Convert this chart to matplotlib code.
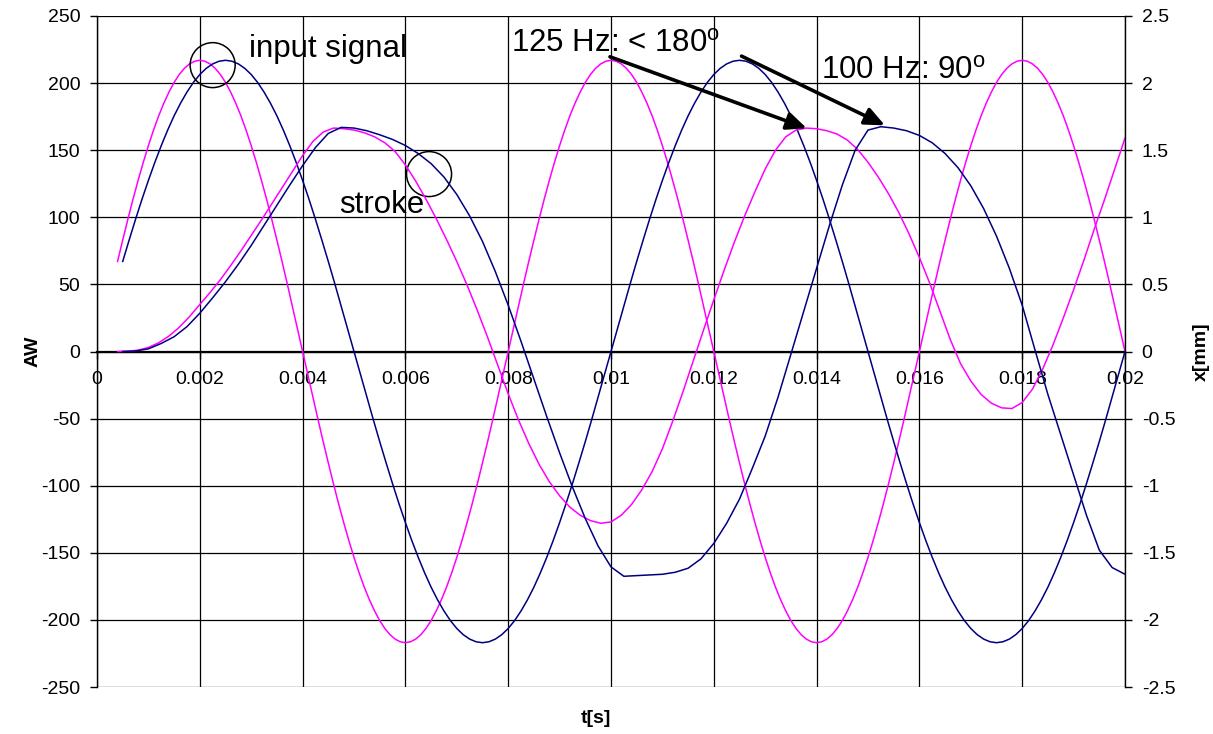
import numpy as np
import matplotlib
matplotlib.use("Agg")
import matplotlib.pyplot as plt
from matplotlib.patches import Ellipse

plt.rcParams['font.family'] = ['Liberation Sans', 'DejaVu Sans']
plt.rcParams['axes.unicode_minus'] = False

# sample times of the data sets
t_125_in = np.linspace(0.0004, 0.02, 197)   # 125 Hz input signal
t_100_in = np.linspace(0.0005, 0.02, 157)   # 100 Hz input signal
t_125 = np.linspace(0.0004, 0.02, 99)       # 125 Hz stroke
t_100 = np.linspace(0.0005, 0.02, 79)       # 100 Hz stroke

# input signal AW (left axis)
aw_125 = [67.1, 83.0, 98.5, 113.4, 127.5, 140.9, 153.4, 165.0, 175.6, 185.0, 193.3, 200.5, 206.4, 211.0, 214.3, 216.3, 217.0,
          216.3, 214.3, 211.0, 206.4, 200.5, 193.3, 185.0, 175.6, 165.0, 153.4, 140.9, 127.5, 113.4, 98.5, 83.0, 67.1, 50.7, 33.9, 17.0, 0.0,
          -17.0, -33.9, -50.7, -67.1, -83.0, -98.5, -113.4, -127.5, -140.9, -153.4, -165.0, -175.6, -185.0, -193.3, -200.5, -206.4, -211.0, -214.3, -216.3, -217.0,
          -216.3, -214.3, -211.0, -206.4, -200.5, -193.3, -185.0, -175.6, -165.0, -153.4, -140.9, -127.5, -113.4, -98.5, -83.0, -67.1, -50.7, -33.9, -17.0, 0.0,
          17.0, 33.9, 50.7,
          67.1, 83.0, 98.5, 113.4, 127.5, 140.9, 153.4, 165.0, 175.6, 185.0, 193.3, 200.5, 206.4, 211.0, 214.3, 216.3, 217.0,
          216.3, 214.3, 211.0, 206.4, 200.5, 193.3, 185.0, 175.6, 165.0, 153.4, 140.9, 127.5, 113.4, 98.5, 83.0, 67.1, 50.7, 33.9, 17.0, 0.0,
          -17.0, -33.9, -50.7, -67.1, -83.0, -98.5, -113.4, -127.5, -140.9, -153.4, -165.0, -175.6, -185.0, -193.3, -200.5, -206.4, -211.0, -214.3, -216.3, -217.0,
          -216.3, -214.3, -211.0, -206.4, -200.5, -193.3, -185.0, -175.6, -165.0, -153.4, -140.9, -127.5, -113.4, -98.5, -83.0, -67.1, -50.7, -33.9, -17.0, 0.0,
          17.0, 33.9, 50.7,
          67.1, 83.0, 98.5, 113.4, 127.5, 140.9, 153.4, 165.0, 175.6, 185.0, 193.3, 200.5, 206.4, 211.0, 214.3, 216.3, 217.0,
          216.3, 214.3, 211.0, 206.4, 200.5, 193.3, 185.0, 175.6, 165.0, 153.4, 140.9, 127.5, 113.4, 98.5, 83.0, 67.1, 50.7, 33.9, 17.0, 0.0]

aw_100 = [67.1, 83.0, 98.5, 113.4, 127.5, 140.9, 153.4, 165.0, 175.6, 185.0, 193.3, 200.5, 206.4, 211.0, 214.3, 216.3, 217.0,
          216.3, 214.3, 211.0, 206.4, 200.5, 193.3, 185.0, 175.6, 165.0, 153.4, 140.9, 127.5, 113.4, 98.5, 83.0, 67.1, 50.7, 33.9, 17.0, 0.0,
          -17.0, -33.9, -50.7, -67.1, -83.0, -98.5, -113.4, -127.5, -140.9, -153.4, -165.0, -175.6, -185.0, -193.3, -200.5, -206.4, -211.0, -214.3, -216.3, -217.0,
          -216.3, -214.3, -211.0, -206.4, -200.5, -193.3, -185.0, -175.6, -165.0, -153.4, -140.9, -127.5, -113.4, -98.5, -83.0, -67.1, -50.7, -33.9, -17.0, 0.0,
          17.0, 33.9, 50.7,
          67.1, 83.0, 98.5, 113.4, 127.5, 140.9, 153.4, 165.0, 175.6, 185.0, 193.3, 200.5, 206.4, 211.0, 214.3, 216.3, 217.0,
          216.3, 214.3, 211.0, 206.4, 200.5, 193.3, 185.0, 175.6, 165.0, 153.4, 140.9, 127.5, 113.4, 98.5, 83.0, 67.1, 50.7, 33.9, 17.0, 0.0,
          -17.0, -33.9, -50.7, -67.1, -83.0, -98.5, -113.4, -127.5, -140.9, -153.4, -165.0, -175.6, -185.0, -193.3, -200.5, -206.4, -211.0, -214.3, -216.3, -217.0,
          -216.3, -214.3, -211.0, -206.4, -200.5, -193.3, -185.0, -175.6, -165.0, -153.4, -140.9, -127.5, -113.4, -98.5, -83.0, -67.1, -50.7, -33.9, -17.0, 0.0]

# stroke x [mm] (right axis)
x_125 = [0.0, 0.002, 0.01, 0.03, 0.065, 0.115, 0.18, 0.26, 0.35, 0.44,
         0.535, 0.64, 0.75, 0.865, 0.98, 1.10, 1.22, 1.34, 1.46, 1.565,
         1.635, 1.665, 1.66, 1.65, 1.63, 1.60, 1.555, 1.49, 1.39, 1.27,
         1.135, 0.99, 0.835, 0.67, 0.495, 0.305, 0.105, -0.105, -0.315, -0.51,
         -0.685, -0.84, -0.97, -1.075, -1.16, -1.22, -1.26, -1.28, -1.27, -1.22,
         -1.14, -1.03, -0.895, -0.725, -0.52, -0.30, -0.07, 0.16, 0.385, 0.605,
         0.815, 1.01, 1.19, 1.36, 1.50, 1.60, 1.65, 1.665, 1.66, 1.645,
         1.62, 1.575, 1.505, 1.41, 1.30, 1.175, 1.035, 0.875, 0.70, 0.51,
         0.30, 0.09, -0.09, -0.22, -0.32, -0.385, -0.42, -0.425, -0.38, -0.28,
         -0.13, 0.05, 0.25, 0.46, 0.68, 0.91, 1.13, 1.36, 1.59]

x_100 = [0.0, 0.004, 0.02, 0.06, 0.11, 0.185, 0.285, 0.40, 0.52, 0.65,
         0.79, 0.94, 1.09, 1.24, 1.385, 1.52, 1.625, 1.67, 1.665, 1.645,
         1.615, 1.58, 1.535, 1.475, 1.40, 1.30, 1.17, 1.01, 0.82, 0.595,
         0.345, 0.075, -0.205, -0.485, -0.755, -1.01, -1.245, -1.45, -1.605, -1.675,
         -1.67, -1.665, -1.66, -1.645, -1.615, -1.545, -1.43, -1.28, -1.10, -0.87,
         -0.63, -0.34, -0.02, 0.30, 0.62, 0.94, 1.24, 1.50, 1.65, 1.675,
         1.665, 1.645, 1.61, 1.555, 1.475, 1.37, 1.235, 1.065, 0.86, 0.62,
         0.345, 0.01, -0.32, -0.62, -0.92, -1.22, -1.48, -1.61, -1.66]

x_ticks = [0, 0.002, 0.004, 0.006, 0.008, 0.01, 0.012, 0.014, 0.016, 0.018, 0.02]
x_tick_labels = ['0', '0.002', '0.004', '0.006', '0.008', '0.01', '0.012',
                 '0.014', '0.016', '0.018', '0.02']
aw_ticks = [-250, -200, -150, -100, -50, 0, 50, 100, 150, 200, 250]
mm_ticks = [-2.5, -2, -1.5, -1, -0.5, 0, 0.5, 1, 1.5, 2, 2.5]
mm_tick_labels = ['-2.5', '-2', '-1.5', '-1', '-0.5', '0', '0.5', '1', '1.5', '2', '2.5']

MAG = '#FF00FF'
NAVY = '#000080'

fig = plt.figure(figsize=(12.13, 7.34), dpi=100)
ax = fig.add_axes([97 / 1213, 1 - 687 / 734, 1028 / 1213, 671 / 734])
ax.set_xlim(0, 0.02)
ax.set_ylim(-250, 250)
ax.set_xticks(x_ticks)
ax.set_xticklabels(x_tick_labels)
ax.set_yticks(aw_ticks)
ax.set_yticklabels([str(v) for v in aw_ticks])
ax.grid(True, color='black', lw=0.9)
ax.set_axisbelow(True)
ax.spines['bottom'].set_position(('data', 0))
ax.spines['bottom'].set_linewidth(1.6)
ax.spines['top'].set_visible(False)
ax.spines['right'].set_visible(False)
ax.spines['left'].set_linewidth(1.0)
ax.tick_params(axis='x', direction='out', length=5, width=1, pad=9, labelsize=14)
ax.tick_params(axis='y', direction='out', length=5, width=1, pad=7, labelsize=14)

ax.plot(t_125_in, aw_125, color=MAG, lw=1.1, zorder=3)
ax.plot(t_100_in, aw_100, color=NAVY, lw=1.1, zorder=3)

ax.set_ylabel('AW', fontsize=14, fontweight='bold')
ax.yaxis.set_label_coords(-0.054, 0.5)
ax.set_xlabel('t[s]', fontsize=14, fontweight='bold')
ax.xaxis.set_label_coords(0.4854, -0.034)

ax2 = ax.twinx()
ax2.set_ylim(-2.5, 2.5)
ax2.set_yticks(mm_ticks)
ax2.set_yticklabels(mm_tick_labels)
for s in ['top', 'bottom', 'left']:
    ax2.spines[s].set_visible(False)
ax2.spines['right'].set_linewidth(1.0)
ax2.tick_params(axis='y', direction='out', length=5, width=1, pad=7, labelsize=14)
ax2.set_ylabel('x[mm]', fontsize=14, fontweight='bold')
ax2.yaxis.set_label_coords(1.066, 0.5)

ax2.plot(t_125, x_125, color=MAG, lw=1.1)
ax2.plot(t_100, x_100, color=NAVY, lw=1.1)

# annotations (positions in AW / t data units)
tr = ax.transData
ax2.add_patch(Ellipse((0.00225, 213.4), 0.000876, 33.5, transform=tr,
                      fill=False, ec='black', lw=1.1))
ax2.add_patch(Ellipse((0.00646, 132.2), 0.000876, 33.5, transform=tr,
                      fill=False, ec='black', lw=1.1))
FS = 22.5
ax2.text(0.00295, 219.4, 'input signal', transform=tr, fontsize=FS, va='baseline')
ax2.text(0.00471, 103.0, 'stroke', transform=tr, fontsize=FS, va='baseline')
ax2.text(0.00806, 222.9, r'125 Hz: < 180$^\mathregular{o}$', transform=tr,
         fontsize=FS, va='baseline')
ax2.text(0.01409, 203.5, r'100 Hz: 90$^\mathregular{o}$', transform=tr,
         fontsize=FS, va='baseline')

arrow = dict(arrowstyle='-|>,head_length=0.5,head_width=0.22', color='black',
             lw=2.6, mutation_scale=24, shrinkA=0, shrinkB=0)
ax2.annotate('', xy=(0.01381, 166.3), xytext=(0.00998, 219.6),
             xycoords=tr, textcoords=tr, arrowprops=arrow)
ax2.annotate('', xy=(0.01533, 168.5), xytext=(0.01254, 220.1),
             xycoords=tr, textcoords=tr, arrowprops=arrow)

fig.savefig('out.png', dpi=100)
